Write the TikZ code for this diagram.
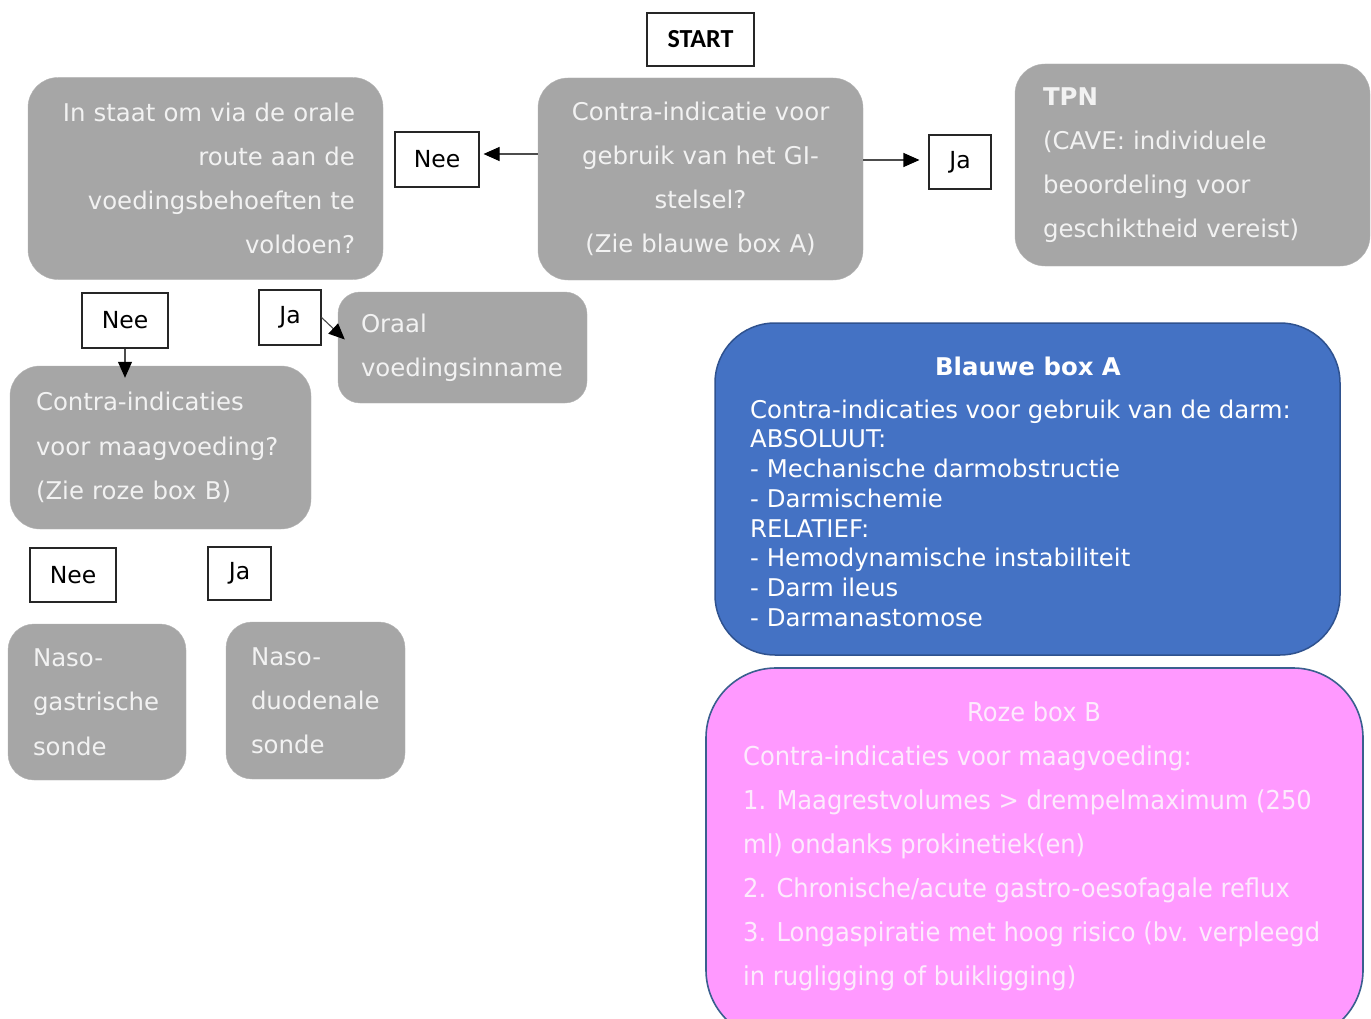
\documentclass[tikz,border=0pt]{standalone}
\usepackage{fontspec}
\setmainfont{DejaVu Sans}
\newfontfamily\startfont{Carlito}
\newfontfamily\pinkfont[FakeStretch=0.93]{DejaVu Sans}
\usetikzlibrary{arrows.meta,calc}
\definecolor{boxgray}{HTML}{A6A6A6}
\definecolor{boxtext}{HTML}{F2F2F2}
\definecolor{blueA}{HTML}{4472C4}
\definecolor{blueBorder}{HTML}{2F528F}
\definecolor{pinkB}{HTML}{FF99FF}
\definecolor{pinkText}{HTML}{FDEBFD}
\definecolor{pinkBorder}{HTML}{3A5F8F}
\begin{document}
\begin{tikzpicture}[x=1pt,y=-1pt,
 graybox/.style={fill=boxgray, draw=boxgray!85!white, rounded corners=30pt, text=boxtext,
   font=\fontsize{24.4}{44}\selectfont, inner ysep=0pt},
 yesno/.style={draw=black!85, line width=1.1pt, fill=white, text=black,
   font=\fontsize{23.5}{28}\selectfont, inner sep=0pt},
 arr/.style={draw=black!70, line width=1.1pt, -{Triangle[length=16pt,width=14pt,fill=black,color=black]}},
 bluetext/.style={text=white, font=\fontsize{24.4}{29.7}\selectfont},
 pinktext/.style={text=pinkText, font=\pinkfont\fontsize{26}{44}\selectfont}
]
\useasboundingbox (0,0) rectangle (1371,1019);

% START
\node[yesno, minimum width=107pt, minimum height=53pt, font=\startfont\bfseries\fontsize{26}{30}\selectfont] (start) at (700.5,39.5) {START};

% main question boxes
\node[graybox, minimum width=355pt, minimum height=202pt, text width=299pt, align=right, inner xsep=28pt] (q1) at (205.5,178.5)
 {In staat om via de orale\\ route aan de\\ voedingsbehoeften te\\ voldoen?};
\node[graybox, minimum width=325pt, minimum height=202pt, text width=281pt, align=center, inner xsep=22pt] (q2) at (700.5,179)
 {Contra-indicatie voor\\ gebruik van het GI-\\ stelsel?\\ (Zie blauwe box A)};
\node[graybox, minimum width=355pt, minimum height=202pt, text width=299pt, align=left, inner xsep=28pt] (tpn) at (1192.5,165)
 {\textbf{TPN}\\ (CAVE: individuele\\ beoordeling voor\\ geschiktheid vereist)};

% yes/no labels
\node[yesno, minimum width=84pt, minimum height=55pt] (nee1) at (437,159.5) {Nee};
\node[yesno, minimum width=62pt, minimum height=54pt] (ja1) at (960,162) {Ja};
\node[yesno, minimum width=86pt, minimum height=55pt] (nee2) at (125,320.5) {Nee};
\node[yesno, minimum width=62pt, minimum height=55pt] (ja2) at (290,317.5) {Ja};
\node[yesno, minimum width=86pt, minimum height=54pt] (nee3) at (73,575) {Nee};
\node[yesno, minimum width=63pt, minimum height=53pt] (ja3) at (239.5,573.5) {Ja};

% second level
\node[graybox, rounded corners=22pt, minimum width=249pt, minimum height=111pt, text width=203pt, align=left, inner xsep=23pt] (oraal) at (462.5,347.5)
 {Oraal\\ voedingsinname};
\node[graybox, minimum width=301pt, minimum height=163pt, text width=249pt, align=left, inner xsep=26pt,
   font=\fontsize{24.4}{44.5}\selectfont] (q3) at (160.5,447.5)
 {Contra-indicaties\\ voor maagvoeding?\\ (Zie roze box B)};
\node[graybox, rounded corners=26pt, minimum width=178pt, minimum height=156pt, text width=128pt, align=left, inner xsep=25pt,
   font=\fontsize{24.4}{44.5}\selectfont] (ng) at (97,702)
 {Naso-\\ gastrische\\ sonde};
\node[graybox, rounded corners=26pt, minimum width=179pt, minimum height=157pt, text width=129pt, align=left, inner xsep=25pt] (nd) at (315.5,700.5)
 {Naso-\\ duodenale\\ sonde};

% connectors
\coordinate (a1) at ([xshift=4pt,yshift=5.5pt]nee1.east);
\draw[arr] (q2.west |- a1) -- (a1);
\coordinate (a2) at ([xshift=-9pt,yshift=2pt]ja1.west);
\draw[arr] (q2.east |- a2) -- (a2);
\coordinate (a3) at ($(nee2.south |- q3.north)+(0,12)$);
\draw[arr] (nee2.south) -- (a3);
\coordinate (a4) at ($(oraal.west)+(7,-8)$);
\draw[arr] (ja2.east) -- (a4);

% Blue box A
\node[draw=blueBorder, line width=1.5pt, fill=blueA, rounded corners=60pt, minimum width=625pt, minimum height=332pt] (boxA) at (1027.5,489) {};
\node[bluetext, font=\bfseries\fontsize{24.4}{29.7}\selectfont] (titleA) at (1028,366) {Blauwe box A};
\node[bluetext, anchor=north west, align=left, inner sep=0pt] (bodyA) at (750,399.5)
 {Contra-indicaties voor gebruik van de darm:\\
  ABSOLUUT:\\
  - Mechanische darmobstructie\\
  - Darmischemie\\
  RELATIEF:\\
  - Hemodynamische instabiliteit\\
  - Darm ileus\\
  - Darmanastomose};

% Pink box B
\node[draw=pinkBorder, line width=1.6pt, fill=pinkB, rounded corners=70pt, minimum width=657pt, minimum height=372pt] (boxB) at (1034.5,854) {};
\node[pinktext] (titleB) at (1034,712) {Roze box B};
\node[pinktext, anchor=north west, align=left, inner sep=0pt] (bodyB) at (743,746)
 {Contra-indicaties voor maagvoeding:\\
  1. Maagrestvolumes > drempelmaximum (250\\
  ml) ondanks prokinetiek(en)\\
  2. Chronische/acute gastro-oesofagale reflux\\
  3. Longaspiratie met hoog risico (bv. verpleegd\\
  in rugligging of buikligging)};
\end{tikzpicture}
\end{document}
